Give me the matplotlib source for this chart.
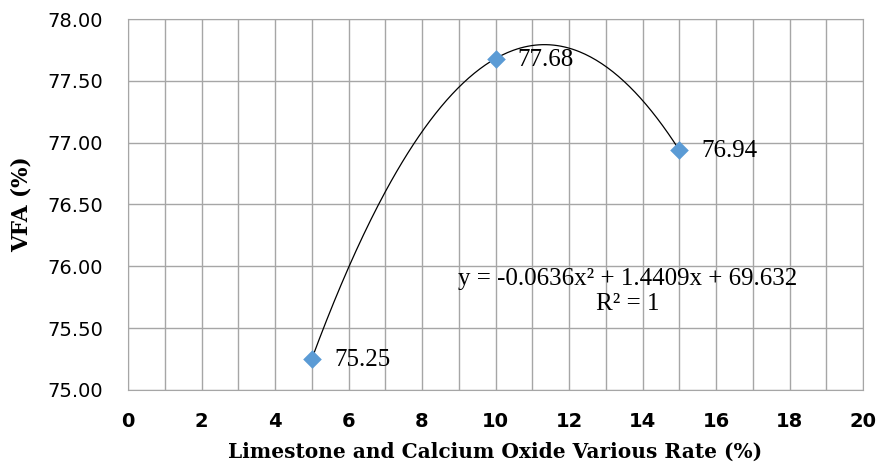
import numpy as np
import matplotlib
matplotlib.use("Agg")
import matplotlib.pyplot as plt

# data
rate = [5, 10, 15]
vfa = [75.25, 77.68, 76.94]
point_labels = ["75.25", "77.68", "76.94"]
x_ticks = [0, 2, 4, 6, 8, 10, 12, 14, 16, 18, 20]
y_ticks = [75.00, 75.50, 76.00, 76.50, 77.00, 77.50, 78.00]
equation = "y = -0.0636x\u00b2 + 1.4409x + 69.632\nR\u00b2 = 1"

fig = plt.figure(figsize=(8.81, 4.68), dpi=100)
ax = fig.add_axes([0.1453, 0.1667, 0.8343, 0.7927])

# polynomial trendline (order 2) through the points
coef = np.polyfit(rate, vfa, 2)
xs = np.linspace(min(rate), max(rate), 200)
ax.plot(xs, np.polyval(coef, xs), color="black", lw=0.9, zorder=2)

ax.scatter(rate, vfa, marker="D", s=90, color="#5B9BD5", zorder=3, linewidths=0)
for x, y, lab in zip(rate, vfa, point_labels):
    ax.annotate(lab, (x, y), xytext=(16, -1), textcoords="offset points",
                va="center", ha="left", fontsize=18, family="Liberation Serif")

ax.text(13.6, 75.795, equation, ha="center", va="center", fontsize=18,
        family="Liberation Serif", linespacing=1.2)

ax.set_xlim(0, 20)
ax.set_ylim(75, 78)
ax.set_xticks(x_ticks)
ax.set_xticks(np.arange(0, 21, 1), minor=True)
ax.set_yticks(y_ticks)
ax.set_yticklabels([f"{v:.2f}" for v in y_ticks], fontsize=14)
ax.set_xticklabels([str(v) for v in x_ticks], fontsize=14, fontweight="bold")
ax.tick_params(which="both", length=0)
ax.tick_params(axis="y", pad=18)
ax.tick_params(axis="x", pad=16)

ax.grid(which="both", color="#a6a6a6", lw=1)
ax.set_axisbelow(True)
for s in ax.spines.values():
    s.set_color("#a6a6a6")

fig.text(495 / 881, 1 - 452 / 468, "Limestone and Calcium Oxide Various Rate (%)",
         ha="center", va="center", fontsize=14.5, fontweight="bold", family="DejaVu Serif")
fig.text(22 / 881, 1 - 204 / 468, "VFA (%)", rotation=90, ha="center", va="center",
         fontsize=15.5, fontweight="bold", family="DejaVu Serif")

fig.savefig("out.png", dpi=100)
